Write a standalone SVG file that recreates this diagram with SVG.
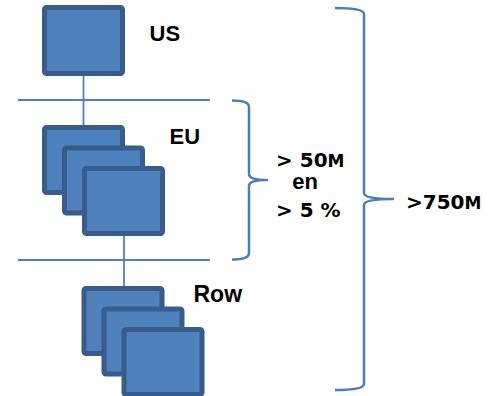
<svg xmlns="http://www.w3.org/2000/svg" width="489" height="396" viewBox="0 0 489 396">
  <defs>
    <style>
      .box { fill: #4F81BD; stroke: #385D8A; stroke-width: 5; }
      .link { fill: none; stroke: #4F81BD; stroke-width: 1.8; }
      .brace { fill: none; stroke: #4A7EBB; stroke-width: 2.5; stroke-linejoin: round; }
      .lbl { font-family: "Liberation Sans", Arial, sans-serif; font-weight: bold; fill: #000; }
      .num { font-family: "DejaVu Sans", sans-serif; font-weight: bold; font-size: 20px; fill: #000; }
      .sc { font-size: 17px; }
    </style>
  </defs>

  <!-- connectors: tier links, separators and braces -->
  <g id="connectors">
    <line class="link" x1="83.5" y1="76" x2="83.5" y2="125"/>
    <line class="link" x1="124" y1="236" x2="124" y2="286"/>
    <line class="link" x1="18" y1="100" x2="210" y2="100"/>
    <line class="link" x1="18" y1="260" x2="210" y2="260"/>
    <path class="brace" d="M232,100.5 Q249,100.5 249,107 L249,174 Q249,180 267,180 Q249,180 249,186 L249,253 Q249,259.5 232,259.5"/>
    <path class="brace" d="M335,8 Q364,8 364,14 L364,193 Q364,199 393,199 Q364,199 364,205 L364,384 Q364,390 335,390"/>
  </g>

  <!-- US tier -->
  <g id="us">
    <rect class="box" x="44.5" y="7.5" width="78" height="66" rx="2"/>
    <text class="lbl" x="149.5" y="40.5" font-size="22">US</text>
  </g>

  <!-- EU tier: stacked servers -->
  <g id="eu">
    <rect class="box" x="44.5" y="127.5" width="78" height="65" rx="2"/>
    <rect class="box" x="64.5" y="148" width="78" height="65" rx="2"/>
    <rect class="box" x="84.5" y="168.5" width="78" height="65" rx="2"/>
    <text class="lbl" x="169.5" y="144" font-size="22">EU</text>
  </g>

  <!-- Rest of world tier: stacked servers -->
  <g id="row">
    <rect class="box" x="84" y="288.5" width="78" height="65" rx="2"/>
    <rect class="box" x="104" y="309" width="78" height="65" rx="2"/>
    <rect class="box" x="124" y="329.5" width="78" height="65" rx="2"/>
    <text class="lbl" x="193.5" y="301.5" font-size="23">Row</text>
  </g>

  <!-- EU brace annotation -->
  <g id="eu-note">
    <text class="num" x="276" y="167.3">&gt; 50<tspan class="sc">M</tspan></text>
    <text class="lbl" x="305" y="188.5" font-size="22" text-anchor="middle">en</text>
    <text class="num" x="276" y="216.5">&gt; 5 %</text>
  </g>

  <!-- total brace annotation -->
  <g id="total-note">
    <text class="num" x="406" y="209.3">&gt;750<tspan class="sc">M</tspan></text>
  </g>
</svg>
